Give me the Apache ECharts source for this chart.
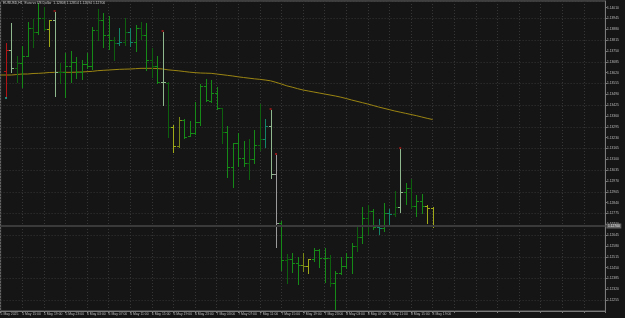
<!DOCTYPE html>
<html><head><meta charset="utf-8">
<script src="https://cdn.jsdelivr.net/npm/echarts@6/dist/echarts.min.js"></script>
<style>html,body{margin:0;padding:0;background:#151515;}#c{width:625px;height:318px;}</style>
</head><body><div id="c"></div>
<script>
const symbolName = 'EURUSD,H1';
const symbolDesc = 'Euro vs US Dollar';
const tickLabels = ['5 May 2025','5 May 15:00','5 May 19:00','5 May 23:00','6 May 03:00','6 May 07:00','6 May 11:00','6 May 15:00','6 May 19:00','6 May 23:00','7 May 03:00','7 May 07:00','7 May 11:00','7 May 15:00','7 May 19:00','7 May 23:00','8 May 03:00','8 May 07:00','8 May 11:00','8 May 15:00','8 May 19:00'];
const opens = [1.13630,1.13756,1.13648,1.13678,1.13720,1.13888,1.13864,1.13948,1.13882,1.13936,
1.13624,1.13624,1.13660,1.13684,1.13624,1.13672,1.13660,1.13876,1.13936,1.13846,
1.13816,1.13798,1.13804,1.13864,1.13804,1.13888,1.13846,1.13696,1.13660,1.13564,
1.13558,1.13294,1.13180,1.13336,1.13240,1.13258,1.13324,1.13540,1.13450,1.13498,
1.13408,1.13264,1.13054,1.13198,1.13108,1.13078,1.13102,1.13186,1.13222,1.13300,
1.13012,1.12718,1.12496,1.12502,1.12478,1.12466,1.12460,1.12502,1.12556,1.12508,
1.12508,1.12358,1.12418,1.12460,1.12514,1.12580,1.12634,1.12748,1.12790,1.12694,
1.12688,1.12778,1.12772,1.12814,1.12904,1.12928,1.12820,1.12850,1.12820,1.12808];
const highs = [1.13798,1.13918,1.13720,1.13780,1.13924,1.13942,1.14038,1.14014,1.13936,1.13984,
1.13678,1.13738,1.13750,1.13714,1.13696,1.13738,1.13894,1.14002,1.13978,1.13960,
1.13834,1.13888,1.13948,1.13888,1.13906,1.13924,1.13918,1.13768,1.13720,1.13864,
1.13564,1.13306,1.13354,1.13342,1.13330,1.13444,1.13552,1.13582,1.13576,1.13534,
1.13408,1.13300,1.13198,1.13258,1.13210,1.13222,1.13276,1.13432,1.13342,1.13396,
1.13126,1.12730,1.12532,1.12538,1.12514,1.12538,1.12502,1.12568,1.12562,1.12568,
1.12526,1.12430,1.12514,1.12538,1.12598,1.12706,1.12814,1.12826,1.12802,1.12742,
1.12838,1.12802,1.12910,1.13162,1.12958,1.12982,1.12886,1.12892,1.12826,1.12814];
const lows = [1.13474,1.13624,1.13564,1.13534,1.13720,1.13774,1.13850,1.13876,1.13780,1.13480,
1.13558,1.13474,1.13564,1.13588,1.13582,1.13648,1.13642,1.13816,1.13774,1.13762,
1.13696,1.13786,1.13786,1.13780,1.13750,1.13822,1.13636,1.13594,1.13558,1.13426,
1.13234,1.13144,1.13174,1.13228,1.13240,1.13252,1.13306,1.13450,1.13444,1.13402,
1.13198,1.12994,1.12934,1.13060,1.13060,1.12982,1.13078,1.13156,1.13174,1.12988,
1.12574,1.12436,1.12358,1.12424,1.12352,1.12430,1.12418,1.12490,1.12454,1.12364,
1.12340,1.12202,1.12412,1.12448,1.12418,1.12550,1.12598,1.12652,1.12682,1.12652,
1.12670,1.12700,1.12760,1.12784,1.12832,1.12808,1.12760,1.12778,1.12718,1.12694];
const closes = [1.13756,1.13648,1.13678,1.13720,1.13888,1.13864,1.13948,1.13882,1.13936,1.13624,
1.13624,1.13660,1.13684,1.13624,1.13672,1.13660,1.13876,1.13936,1.13846,1.13816,
1.13798,1.13804,1.13864,1.13804,1.13888,1.13846,1.13696,1.13660,1.13564,1.13564,
1.13294,1.13180,1.13336,1.13234,1.13258,1.13324,1.13540,1.13456,1.13498,1.13408,
1.13264,1.13054,1.13198,1.13108,1.13078,1.13102,1.13186,1.13222,1.13300,1.13012,
1.12718,1.12496,1.12502,1.12478,1.12466,1.12460,1.12502,1.12556,1.12508,1.12508,
1.12358,1.12418,1.12460,1.12514,1.12580,1.12634,1.12748,1.12790,1.12694,1.12688,
1.12778,1.12772,1.12814,1.12904,1.12928,1.12820,1.12850,1.12820,1.12808,1.12700];
// moving average, starting one bar before the first visible bar
const maValues = [1.13606,1.13606,1.13606,1.13609,1.13612,1.13612,1.13615,1.13616,1.13618,1.13621,
1.13622,1.13622,1.13622,1.13622,1.13623,1.13624,1.13626,1.13628,1.13632,1.13634,
1.13636,1.13638,1.13640,1.13641,1.13642,1.13644,1.13646,1.13646,1.13646,1.13645,
1.13642,1.13637,1.13634,1.13631,1.13627,1.13623,1.13620,1.13618,1.13617,1.13616,
1.13612,1.13608,1.13604,1.13600,1.13595,1.13591,1.13587,1.13583,1.13580,1.13576,
1.13571,1.13562,1.13552,1.13541,1.13533,1.13524,1.13516,1.13510,1.13504,1.13498,
1.13492,1.13486,1.13480,1.13473,1.13465,1.13456,1.13448,1.13440,1.13432,1.13423,
1.13414,1.13406,1.13398,1.13390,1.13383,1.13376,1.13369,1.13362,1.13354,1.13346,
1.13339];
const fractalBars = [9, 29, 49, 50, 73];
const lowMarkBars = [0];
const barShades = 'rldggdgdyl' + 'dggggggdgg' + 'dtdtgdgdgl' + 'dyoggggggg' + 'dggggdgdtl' +
                  'wgdggoyggg' + 'dggggdgdgt' + 'gtdlgdggyy';

const palette = {g:'#168a16', d:'#0d600d', l:'#8fb88f', y:'#a0aa18', o:'#7a8816', t:'#138468', r:'#b01414', w:'#9a9a9a'};
const slotCount = 113; // one lead slot + bars + right shift space
const slots = Array.from({length: slotCount}, (_, i) => 'slot' + i);
const ohlc = opens.map((o, i) => [i + 1, o, highs[i], lows[i], closes[i]]);
const last = closes.length - 1;
const font = 'Liberation Sans, Arial, sans-serif';
const axisGray = '#7a7a7a';
const gridGray = '#363636';
const textGray = '#bdbdbd';

const chart = echarts.init(document.getElementById('c'), null, {renderer: 'canvas'});
chart.setOption({
  animation: false,
  backgroundColor: '#151515',
  title: {
    text: symbolName + '  ' + symbolDesc + '  ' + [opens[last], highs[last], lows[last], closes[last]].map(v => v.toFixed(5)).join(' '),
    left: 3, top: 2, padding: 0,
    textStyle: {fontSize: 3.4, color: '#c8c8c8', fontWeight: 'normal', fontFamily: font}
  },
  grid: {left: 0.6, top: 1, width: 604.8, height: 310, containLabel: false, outerBoundsMode: 'none',
         show: true, borderColor: '#6a6a6a', borderWidth: 1, backgroundColor: 'transparent'},
  xAxis: {
    type: 'category', data: slots, boundaryGap: false,
    axisLine: {show: true, lineStyle: {color: axisGray, width: 1}},
    axisTick: {show: true, interval: (i) => i % 4 === 0, length: 2, lineStyle: {color: axisGray}},
    axisLabel: {
      interval: (i) => i % 4 === 0 && i / 4 < tickLabels.length,
      formatter: (v, i) => tickLabels[i / 4] || '',
      align: 'left', fontSize: 3.4, color: textGray, margin: 1.5, fontFamily: font
    },
    splitLine: {show: true, interval: (i) => i % 4 === 0, lineStyle: {color: gridGray, type: [1, 2], width: 1}}
  },
  yAxis: {
    type: 'value', position: 'right', min: 1.12190, max: 1.14050, interval: 0.00065, scale: true,
    axisLine: {show: true, lineStyle: {color: axisGray, width: 1}},
    axisTick: {show: true, length: 2, lineStyle: {color: axisGray}},
    axisLabel: {fontSize: 3.3, color: textGray, margin: 1.5, fontFamily: font,
      formatter: (v) => v.toFixed(5), showMinLabel: false, showMaxLabel: false},
    splitLine: {show: true, lineStyle: {color: ['rgba(0,0,0,0)', gridGray], type: [1, 2], width: 1}}
  },
  series: [
    {
      name: 'MA', type: 'line', data: maValues, symbol: 'none', z: 2,
      lineStyle: {color: '#9b8513', width: 1},
      markLine: {
        silent: true, symbol: ['none', 'none'], animation: false, precision: 5,
        data: [{yAxis: closes[last]}],
        lineStyle: {color: '#3a3a3a', width: 2, type: 'solid'},
        label: {show: true, position: 'end', distance: 1, formatter: (p) => Number(p.value).toFixed(5),
          backgroundColor: '#5e5e5e', color: '#e8e8e8', fontSize: 3.3, padding: [1, 1.5], fontFamily: font}
      }
    },
    {
      name: 'Bars', type: 'custom', data: ohlc, z: 3,
      encode: {x: 0, y: [1, 2, 3, 4]},
      renderItem: (params, api) => {
        const s = api.value(0);
        const o = api.coord([s, api.value(1)]);
        const h = api.coord([s, api.value(2)]);
        const l = api.coord([s, api.value(3)]);
        const c = api.coord([s, api.value(4)]);
        const x = Math.round(o[0]) + 0.5;
        const col = palette[barShades[params.dataIndex]] || palette.g;
        const st = {stroke: col, lineWidth: 1};
        const oy = Math.round(o[1]) + 0.5, cy = Math.round(c[1]) + 0.5;
        return {type: 'group', children: [
          {type: 'line', shape: {x1: x, y1: Math.round(h[1]), x2: x, y2: Math.round(l[1]) + 1}, style: st},
          {type: 'line', shape: {x1: x - 2.5, y1: oy, x2: x, y2: oy}, style: st},
          {type: 'line', shape: {x1: x, y1: cy, x2: x + 2.5, y2: cy}, style: st}
        ]};
      }
    },
    {
      name: 'Fractals', type: 'scatter', z: 4, symbol: 'rect', symbolSize: 2, symbolOffset: [0, -1],
      data: fractalBars.map(b => [b + 1, highs[b]]),
      itemStyle: {color: '#a81c1c'}
    },
    {
      name: 'LowMarks', type: 'scatter', z: 4, symbol: 'rect', symbolSize: 2, symbolOffset: [0, 1],
      data: lowMarkBars.map(b => [b + 1, lows[b]]),
      itemStyle: {color: '#22a08e'}
    }
  ]
});
</script>
</body></html>
